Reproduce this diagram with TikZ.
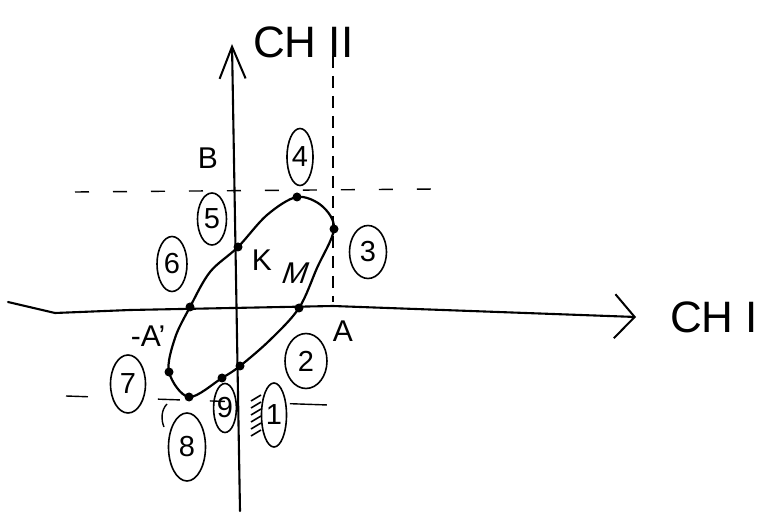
\documentclass[tikz,border=0pt]{standalone}
\usepackage{fontspec}
\setmainfont{Liberation Sans}
\usetikzlibrary{arrows.meta,shapes.geometric}
\begin{document}
\begin{tikzpicture}[x=1pt,y=-1pt,
  axisline/.style={line width=2.1pt,line cap=round},
  curve/.style={line width=2.2pt},
  guide/.style={line width=1.4pt,dash pattern=on 14pt off 24pt},
  dot/.style={circle,fill=black,inner sep=0pt,minimum size=9pt},
  oval/.style={ellipse,draw,line width=1.6pt,inner sep=0pt,font=\fontsize{29}{29}\selectfont},
  biglabel/.style={font=\fontsize{44}{44}\selectfont,inner sep=0pt},
  midlabel/.style={font=\fontsize{30}{30}\selectfont,inner sep=0pt}
]
\useasboundingbox (0,0) rectangle (780,513);
\fill[white] (0,0) rectangle (780,513);

% axes
\coordinate (xs) at (8,302);
\coordinate (xe) at (636,317);
\coordinate (ys) at (240,511);
\coordinate (ye) at (232,44);
\draw[axisline,-{Straight Barb[length=20pt,width=44pt,line width=2pt]}]
  (xs) -- (55,313) -- (130,310) -- (333,306) -- (xe);
\draw[axisline,-{Straight Barb[length=32pt,width=26pt,line width=2pt]}]
  (ys) -- (ye);

% dashed guides
\coordinate (ga) at (333,56);
\coordinate (gb) at (333,302);
\draw[guide,dash pattern=on 12pt off 8pt] (ga) -- (gb);
\coordinate (gc) at (75,192);
\coordinate (gd) at (436,189);
\draw[guide] (gc) -- (gd);
\coordinate (ge) at (66,396);
\coordinate (gf) at (328,405);
\draw[guide,dash pattern=on 22pt off 70pt on 22pt off 30pt on 15pt off 65pt on 37pt] (ge) -- (gf);

% ellipse points
\coordinate (p4) at (297,197);
\coordinate (p3) at (334,229);
\coordinate (p2) at (299,308);
\coordinate (p1) at (240,366);
\coordinate (p9) at (222,378);
\coordinate (p8) at (189,397);
\coordinate (p7) at (169,372);
\coordinate (p6) at (190,307);
\coordinate (p5) at (238,247);
\coordinate (q54) at (267,215);
\coordinate (q43) at (322,206);
\coordinate (q32) at (317,268);
\coordinate (q21) at (270,340);
\coordinate (q76) at (175,338);
\coordinate (q65) at (210,272);
\draw[curve] plot[smooth cycle,tension=0.55] coordinates
  {(p4) (q43) (p3) (q32) (p2) (q21) (p1) (p9) (p8) (p7) (q76) (p6) (q65) (p5) (q54)};
\foreach \p in {p4,p3,p2,p1,p9,p8,p7,p6,p5} \node[dot] at (\p) {};

% circled numbers
\node[oval,minimum width=26pt,minimum height=57pt] (n4) at (300,157) {4};
\node[oval,minimum width=29pt,minimum height=52pt] (n5) at (212,219) {5};
\node[oval,minimum width=30pt,minimum height=55pt] (n6) at (172,264) {6};
\node[oval,minimum width=37pt,minimum height=53pt] (n3) at (368,252) {3};
\node[oval,minimum width=42pt,minimum height=55pt] (n2) at (306,361) {2};
\node[oval,minimum width=25pt,minimum height=64pt] (n1) at (274,415) {1};
\node[oval,minimum width=18pt,minimum height=49pt] (n9) at (225,408) {9};
\node[oval,minimum width=37pt,minimum height=68pt] (n8) at (187,447) {8};
\node[oval,minimum width=35pt,minimum height=58pt] (n7) at (128,384) {7};

% scribble left of 1
\foreach \yy in {398,405,412,419,426,433}
  \draw[line width=1.6pt] (251,\yy+3) -- (261,\yy-3);
\draw[line width=1.4pt] (167,404) .. controls (161,410) and (161,420) .. (164,427);

% letters
\node[midlabel] (lb) at (208,158) {B};
\node[midlabel] (lk) at (262,260) {K};
\node[midlabel,xslant=0.35] (lm) at (296,273) {M};
\node[midlabel] (la) at (343,331) {A};
\node[midlabel] (lma) at (148,336) {-A'};

% channel labels
\node[biglabel,anchor=west] (ch2) at (253,42) {CH II};
\node[biglabel,anchor=west] (ch1) at (670,317) {CH I};
\end{tikzpicture}
\end{document}
